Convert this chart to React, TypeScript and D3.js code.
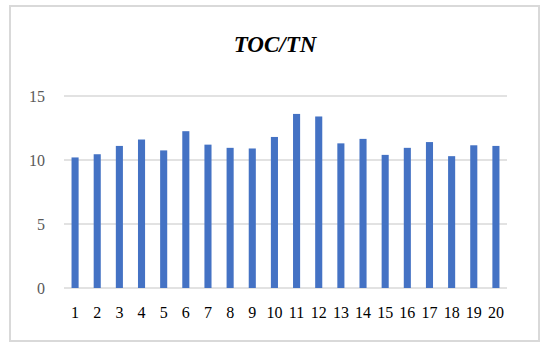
import * as d3 from "d3";
import { useEffect, useRef } from "react";

const samples = ["1", "2", "3", "4", "5", "6", "7", "8", "9", "10",
  "11", "12", "13", "14", "15", "16", "17", "18", "19", "20"];
const tocTn = [10.2, 10.45, 11.1, 11.6, 10.75, 12.25, 11.2, 10.95, 10.9, 11.8,
  13.6, 13.4, 11.3, 11.65, 10.4, 10.95, 11.4, 10.3, 11.15, 11.1];
const yTicks = [0, 5, 10, 15];

const App = () => {
  const ref = useRef<SVGSVGElement>(null);

  useEffect(() => {
    document.body.style.margin = "0";
    const width = 550, height = 350;
    const margin = { top: 96, right: 43, bottom: 62, left: 64 };
    const innerW = width - margin.left - margin.right;
    const innerH = height - margin.top - margin.bottom;
    const font = "Liberation Serif, serif";

    const svg = d3.select(ref.current);
    svg.selectAll("*").remove();

    // outer chart border
    svg.append("rect")
      .attr("x", 10).attr("y", 6)
      .attr("width", 529).attr("height", 335)
      .attr("fill", "#fff")
      .attr("stroke", "#d9d9d9")
      .attr("stroke-width", 2);

    svg.append("text")
      .attr("x", 275).attr("y", 52)
      .attr("text-anchor", "middle")
      .style("font-family", font)
      .style("font-size", "23px")
      .style("font-weight", "bold")
      .style("font-style", "italic")
      .attr("fill", "#000")
      .text("TOC/TN");

    const g = svg.append("g")
      .attr("transform", `translate(${margin.left},${margin.top})`);

    const x = d3.scaleBand()
      .domain(samples)
      .range([0, innerW])
      .paddingInner(0.68)
      .paddingOuter(0.34);

    const y = d3.scaleLinear().domain([0, 15]).range([innerH, 0]);

    // gridlines
    g.selectAll("line.grid")
      .data(yTicks)
      .join("line")
      .attr("class", "grid")
      .attr("x1", 0).attr("x2", innerW)
      .attr("y1", d => y(d)).attr("y2", d => y(d))
      .attr("stroke", "#d9d9d9")
      .attr("stroke-width", 1.5);

    g.selectAll("text.ytick")
      .data(yTicks)
      .join("text")
      .attr("class", "ytick")
      .attr("x", -19)
      .attr("y", d => y(d))
      .attr("dy", "0.35em")
      .attr("text-anchor", "end")
      .style("font-family", font)
      .style("font-size", "16px")
      .attr("fill", "#595959")
      .text(d => d);

    // bars
    g.selectAll("rect.bar")
      .data(tocTn)
      .join("rect")
      .attr("class", "bar")
      .attr("x", (d, i) => x(samples[i])!)
      .attr("y", d => y(d))
      .attr("width", x.bandwidth())
      .attr("height", d => innerH - y(d))
      .attr("fill", "#4472c4");

    g.selectAll("text.xtick")
      .data(samples)
      .join("text")
      .attr("class", "xtick")
      .attr("x", d => x(d)! + x.bandwidth() / 2)
      .attr("y", innerH + 30)
      .attr("text-anchor", "middle")
      .style("font-family", font)
      .style("font-size", "16px")
      .attr("fill", "#000")
      .text(d => d);
  }, []);

  return <svg ref={ref} width={550} height={350} style={{ display: "block" }} />;
};

export default App;
